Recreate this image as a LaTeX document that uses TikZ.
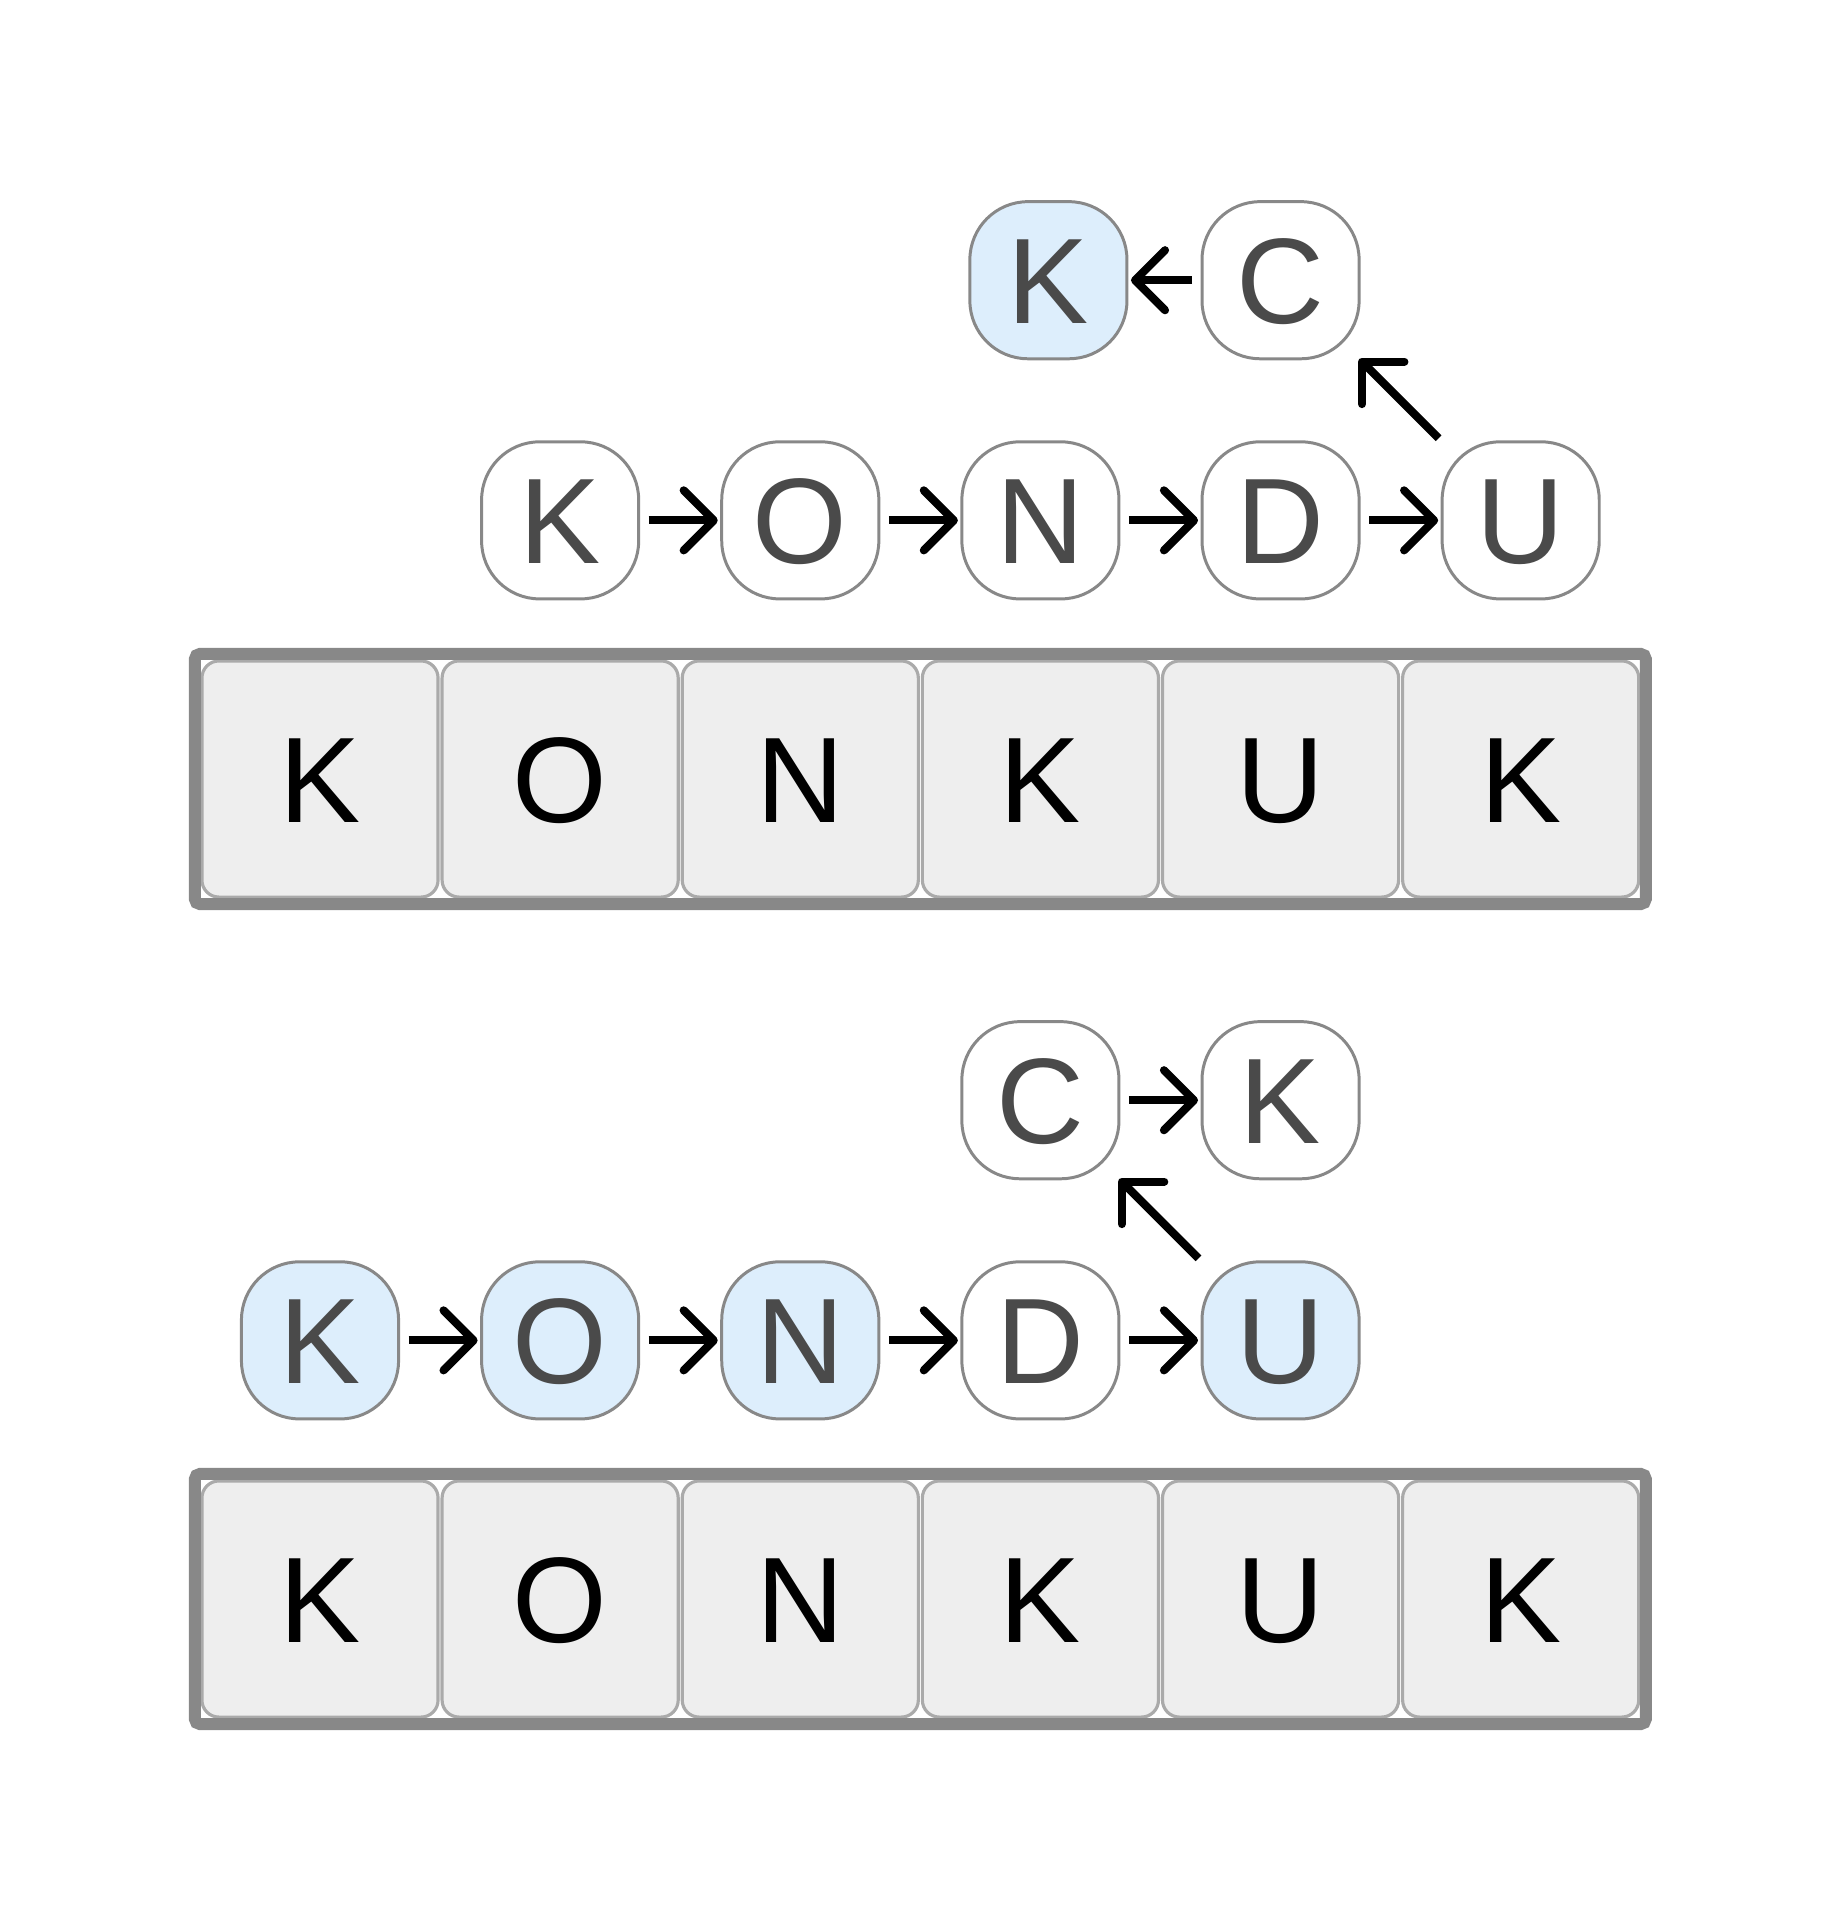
\documentclass[tikz,border=0pt]{standalone}
\usepackage{fontspec}
\setmainfont{Liberation Sans}
\usetikzlibrary{positioning,fit,arrows.meta}

\definecolor{boxline}{HTML}{888888}
\definecolor{cellline}{HTML}{AAAAAA}
\definecolor{cellgray}{HTML}{EEEEEE}
\definecolor{hilite}{HTML}{DDEEFC}
\definecolor{ink}{HTML}{4A4A4A}

\tikzset{
    letter/.style={draw=boxline, line width=0.85pt, fill=white, rounded corners=0.58cm,
        minimum size=1.57cm, inner sep=0pt, outer sep=0pt, text=ink,
        font=\fontsize{34.6}{40}\selectfont, text height=24.75pt, text depth=0pt},
    picked/.style={letter, fill=hilite},
    cell/.style={draw=cellline, line width=0.9pt, fill=cellgray, rounded corners=0.17cm,
        minimum size=2.36cm, inner sep=0pt, outer sep=0pt, text=black,
        font=\fontsize{34.6}{40}\selectfont, text height=24.75pt, text depth=0pt},
    frame/.style={draw=boxline, line width=3.4pt, rounded corners=0.05cm, inner sep=0.07cm},
    link/.style={-{Straight Barb[length=0.3cm, width=0.6cm, round]}, line width=2.3pt,
        shorten <=0.1cm, shorten >=0.04cm},
    uplink/.style={link, shorten <=0.05cm, shorten >=0cm}
}

\begin{document}
\begin{tikzpicture}[x=0.01cm, y=-0.01cm]
        \useasboundingbox (0,0) rectangle (1840,1920);
        % upper string
        \node[cell] (tbox1) at (320,779) {K};
        \node[cell] (tbox2) [right = 0.04cm of tbox1] {O};
        \node[cell] (tbox3) [right = 0.04cm of tbox2] {N};
        \node[cell] (tbox4) [right = 0.04cm of tbox3] {K};
        \node[cell] (tbox5) [right = 0.04cm of tbox4] {U};
        \node[cell] (tbox6) [right = 0.04cm of tbox5] {K};
        \node[frame, fit=(tbox1)(tbox6)] (tframe) {};
        \node[letter] (tk) [above = 0.62cm of tbox2] {K};
        \node[letter] (to) [right = 0.83cm of tk] {O};
        \node[letter] (tn) [right = 0.83cm of to] {N};
        \node[letter] (td) [right = 0.83cm of tn] {D};
        \node[letter] (tu) [right = 0.83cm of td] {U};
        \node[letter] (tc) [above = 0.83cm of td] {C};
        \node[picked] (tk2) [left = 0.75cm of tc] {K};
        \path (tk) edge[link] (to);
        \path (to) edge[link] (tn);
        \path (tn) edge[link] (td);
        \path (td) edge[link] (tu);
        \path (tu.north west) edge[uplink] (tc.south east);
        \path (tc) edge[link] (tk2);
        % lower string
        \node[cell] (bbox1) at (320,1599) {K};
        \node[cell] (bbox2) [right = 0.04cm of bbox1] {O};
        \node[cell] (bbox3) [right = 0.04cm of bbox2] {N};
        \node[cell] (bbox4) [right = 0.04cm of bbox3] {K};
        \node[cell] (bbox5) [right = 0.04cm of bbox4] {U};
        \node[cell] (bbox6) [right = 0.04cm of bbox5] {K};
        \node[frame, fit=(bbox1)(bbox6)] (bframe) {};
        \node[picked] (bk) [above = 0.62cm of bbox1] {K};
        \node[picked] (bo) [right = 0.83cm of bk] {O};
        \node[picked] (bn) [right = 0.83cm of bo] {N};
        \node[letter] (bd) [right = 0.83cm of bn] {D};
        \node[picked] (bu) [right = 0.83cm of bd] {U};
        \node[letter] (bc) [above = 0.83cm of bd] {C};
        \node[letter] (bk2) [right = 0.83cm of bc] {K};
        \path (bk) edge[link] (bo);
        \path (bo) edge[link] (bn);
        \path (bn) edge[link] (bd);
        \path (bd) edge[link] (bu);
        \path (bu.north west) edge[uplink] (bc.south east);
        \path (bc) edge[link] (bk2);
\end{tikzpicture}
\end{document}
